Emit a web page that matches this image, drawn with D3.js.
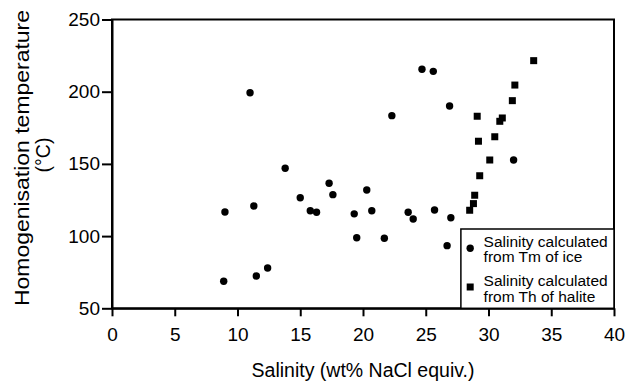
<!DOCTYPE html>
<html lang="en">
<head>
    <meta charset="UTF-8">
    <title>Salinity vs Homogenisation temperature</title>
    <script src="https://d3js.org/d3.v7.min.js"></script>
    <style>
        body { margin: 0; background: #fff; }
        text { font-family: "Liberation Sans", Arial, sans-serif; fill: #000; }
    </style>
</head>
<body>
    <svg id="chart"></svg>
    <script>
        // Salinity calculated from Tm of ice (circles)
        var iceSalinity = [11.0, 13.8, 24.7, 25.6, 26.9, 22.3, 32.0, 20.3, 20.7, 23.6, 24.0, 25.7, 27.0, 21.7,
                           26.7, 9.0, 11.3, 15.0, 15.8, 16.3, 17.3, 17.6, 19.3, 19.5, 8.9, 11.5, 12.4];
        var iceTemp = [199.3, 147, 215.5, 214.1, 190.1, 183.4, 152.7, 131.9, 117.6, 116.5, 111.8, 118.1, 112.7, 98.5,
                       93.4, 116.7, 120.8, 126.6, 117.6, 116.5, 136.6, 128.7, 115.4, 98.9, 68.7, 72.4, 77.9];

        // Salinity calculated from Th of halite (squares)
        var haliteSalinity = [33.6, 32.1, 31.9, 29.1, 31.1, 30.9, 30.5, 29.2, 30.1, 29.3, 28.9, 28.8, 28.5];
        var haliteTemp = [221.5, 204.6, 193.8, 183, 181.8, 179.5, 168.8, 165.7, 152.7, 141.8, 128.3, 122.5, 117.9];

        var xTicks = [0, 5, 10, 15, 20, 25, 30, 35, 40];
        var yTicks = [50, 100, 150, 200, 250];
        var legendLabels = [["Salinity calculated", "from Tm of ice"], ["Salinity calculated", "from Th of halite"]];

        var W = 630, H = 383;
        var margin = { top: 19.5, right: 16, bottom: 74.7, left: 112 };
        var width = W - margin.left - margin.right;
        var height = H - margin.top - margin.bottom;

        var svg = d3.select('#chart').attr('width', W).attr('height', H);
        var g = svg.append('g').attr('transform', 'translate(' + margin.left + ',' + margin.top + ')');

        var x = d3.scaleLinear().domain([0, 40]).range([0, width]);
        var y = d3.scaleLinear().domain([50, 250]).range([height, 0]);

        // frame
        g.append('rect')
            .attr('width', width).attr('height', height)
            .attr('fill', 'none').attr('stroke', '#000').attr('stroke-width', 2);

        var xAxis = g.append('g')
            .attr('transform', 'translate(0,' + height + ')')
            .call(d3.axisBottom(x).tickValues(xTicks).tickSize(8).tickPadding(11).tickSizeOuter(0));
        var yAxis = g.append('g')
            .call(d3.axisLeft(y).tickValues(yTicks).tickSize(10).tickPadding(2).tickSizeOuter(0));

        [xAxis, yAxis].forEach(function (a) {
            a.select('.domain').attr('stroke-width', 2);
            a.selectAll('.tick line').attr('stroke-width', 2);
            a.selectAll('.tick text')
                .style('font-family', '"Liberation Sans", Arial, sans-serif')
                .style('font-size', '19px');
        });

        // points
        g.selectAll('circle.ice')
            .data(d3.zip(iceSalinity, iceTemp))
            .enter().append('circle')
            .attr('class', 'ice')
            .attr('cx', d => x(d[0]))
            .attr('cy', d => y(d[1]))
            .attr('r', 3.7)
            .attr('fill', '#000');

        var sq = 7;
        g.selectAll('rect.halite')
            .data(d3.zip(haliteSalinity, haliteTemp))
            .enter().append('rect')
            .attr('class', 'halite')
            .attr('x', d => x(d[0]) - sq / 2)
            .attr('y', d => y(d[1]) - sq / 2)
            .attr('width', sq).attr('height', sq)
            .attr('fill', '#000');

        // legend
        var lx = x(27.8), ly = 209.5;
        var legend = g.append('g').attr('transform', 'translate(' + lx + ',' + ly + ')');
        legend.append('rect')
            .attr('width', width - lx).attr('height', height - ly)
            .attr('fill', '#fff').attr('stroke', '#000').attr('stroke-width', 1.5);

        legend.append('circle').attr('cx', 9.3).attr('cy', 19.3).attr('r', 3.7).attr('fill', '#000');
        legend.append('rect').attr('x', 9.3 - sq / 2).attr('y', 58 - sq / 2).attr('width', sq).attr('height', sq).attr('fill', '#000');

        var baselines = [[18.3, 32.8], [57, 72.5]];
        legendLabels.forEach(function (lines, i) {
            lines.forEach(function (t, j) {
                legend.append('text')
                    .attr('x', 22.7)
                    .attr('y', baselines[i][j])
                    .style('font-size', '15.5px')
                    .text(t);
            });
        });

        // axis titles
        svg.append('text')
            .attr('x', margin.left + width / 2)
            .attr('y', 377.3)
            .attr('text-anchor', 'middle')
            .style('font-size', '19.5px')
            .text('Salinity (wt% NaCl equiv.)');

        svg.append('text')
            .attr('transform', 'translate(28.5,158) rotate(-90)')
            .attr('text-anchor', 'middle')
            .attr('textLength', 296)
            .attr('lengthAdjust', 'spacingAndGlyphs')
            .style('font-size', '19.5px')
            .text('Homogenisation temperature');

        svg.append('text')
            .attr('transform', 'translate(50,155) rotate(-90)')
            .attr('text-anchor', 'middle')
            .style('font-size', '19.5px')
            .text('(°C)');
    </script>
</body>
</html>
